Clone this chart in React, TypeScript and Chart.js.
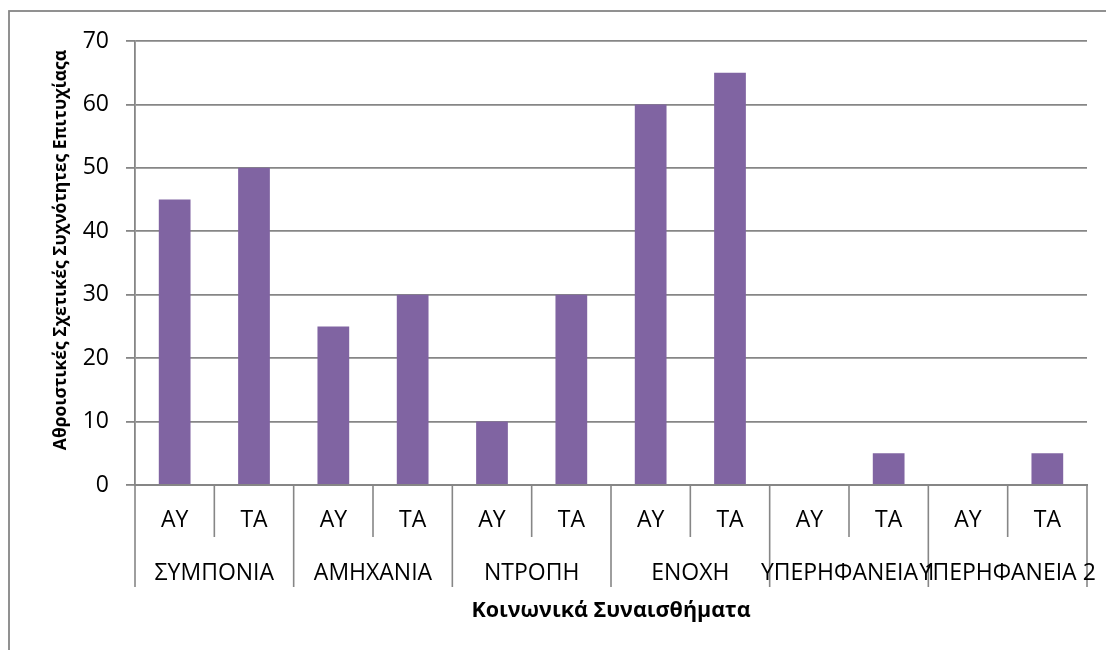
import React, { useEffect, useRef } from 'react';
import { Chart, registerables } from 'chart.js';

Chart.register(...registerables);

const categories = ['ΑΥ', 'ΤΑ', 'ΑΥ', 'ΤΑ', 'ΑΥ', 'ΤΑ', 'ΑΥ', 'ΤΑ', 'ΑΥ', 'ΤΑ', 'ΑΥ', 'ΤΑ'];
const groups = ['ΣΥΜΠΟΝΙΑ', 'ΑΜΗΧΑΝΙΑ', 'ΝΤΡΟΠΗ', 'ΕΝΟΧΗ', 'ΥΠΕΡΗΦΑΝΕΙΑ 1', 'ΥΠΕΡΗΦΑΝΕΙΑ 2'];
const values = [45, 50, 25, 30, 10, 30, 60, 65, 0, 5, 0, 5];
const yMin = 0;
const yMax = 70;
const yStep = 10;
const yTitle = 'Αθροιστικές Σχετικές Συχνότητες Επιτυχίαςα';
const xTitle = 'Κοινωνικά Συναισθήματα';

const FONT = "'Open Sans', 'Noto Sans', sans-serif";
const GRAY = '#868686';

const decorPlugin = {
  id: 'decor',
  beforeDraw(chart: any) {
    const ctx = chart.ctx;
    ctx.save();
    ctx.fillStyle = '#ffffff';
    ctx.fillRect(0, 0, chart.width, chart.height);
    ctx.strokeStyle = GRAY;
    ctx.lineWidth = 1.8;
    ctx.strokeRect(9, 11, chart.width + 50, chart.height + 50);
    ctx.restore();
  },
  afterDraw(chart: any) {
    const ctx = chart.ctx;
    const x = chart.scales.x;
    const area = chart.chartArea;
    ctx.save();
    ctx.strokeStyle = GRAY;
    ctx.lineWidth = 1.6;
    for (let i = 0; i <= categories.length; i++) {
      const px = x.getPixelForValue(i - 0.5);
      const len = i % 2 === 0 ? 102 : 52;
      ctx.beginPath();
      ctx.moveTo(px, area.bottom);
      ctx.lineTo(px, area.bottom + len);
      ctx.stroke();
    }
    ctx.fillStyle = '#000';
    ctx.font = `23px ${FONT}`;
    ctx.textAlign = 'center';
    ctx.textBaseline = 'middle';
    groups.forEach((g, gi) => {
      const cx = (x.getPixelForValue(gi * 2) + x.getPixelForValue(gi * 2 + 1)) / 2;
      ctx.fillText(g, cx, area.bottom + 88);
    });
    ctx.font = `bold 21.5px ${FONT}`;
    ctx.fillText(xTitle, (area.left + area.right) / 2, 611);
    ctx.font = `bold 17.5px ${FONT}`;
    ctx.translate(61, 250);
    ctx.rotate(-Math.PI / 2);
    ctx.fillText(yTitle, 0, 0);
    ctx.restore();
  },
};

export default function App() {
  const ref = useRef<HTMLCanvasElement>(null);
  useEffect(() => {
    if (!ref.current) return;
    const chart = new Chart(ref.current, {
      type: 'bar',
      data: {
        labels: categories,
        datasets: [
          {
            data: values,
            backgroundColor: '#8064A2',
            borderWidth: 0,
            barPercentage: 0.4,
            categoryPercentage: 1,
          },
        ],
      },
      options: {
        responsive: false,
        animation: false,
        layout: { padding: { top: 41, right: 19, left: 0, bottom: 0 } },
        plugins: { legend: { display: false }, tooltip: { enabled: false }, title: { display: false } },
        scales: {
          x: {
            type: 'category',
            offset: true,
            grid: { display: false, drawTicks: false },
            border: { display: true, color: GRAY, width: 2 },
            ticks: {
              color: '#000',
              font: { family: FONT, size: 23 },
              padding: 22,
              maxRotation: 0,
              autoSkip: false,
            },
            afterFit: (s: any) => {
              s.height = 165;
            },
          },
          y: {
            min: yMin,
            max: yMax,
            ticks: {
              stepSize: yStep,
              color: '#000',
              font: { family: FONT, size: 23 },
              padding: 17,
            },
            grid: { color: GRAY, lineWidth: 1.8, tickLength: 9 },
            border: { display: true, color: GRAY, width: 1.8 },
            afterFit: (s: any) => {
              s.width = 135;
            },
          },
        },
      },
      plugins: [decorPlugin],
    });
    return () => chart.destroy();
  }, []);
  return (
    <div style={{ position: 'fixed', left: 0, top: 0, width: 1106, height: 650 }}>
      <canvas ref={ref} width={1106} height={650} style={{ display: 'block' }} />
    </div>
  );
}
